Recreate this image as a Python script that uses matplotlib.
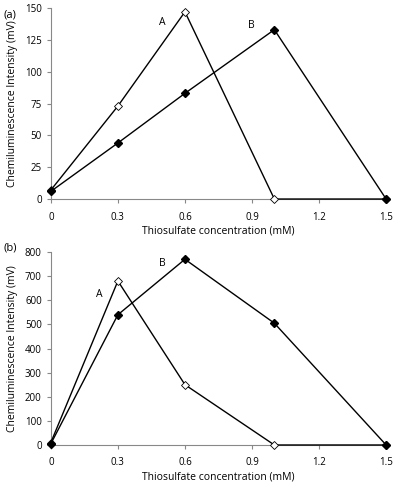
import numpy as np
import matplotlib
matplotlib.use("Agg")
import matplotlib.pyplot as plt

# Thiosulfate concentration (mM)
conc = [0, 0.3, 0.6, 1.0, 1.5]

# Panel (a) intensities (mV)
a_A = [7, 73, 147, 0, 0]
a_B = [6, 44, 83, 133, 0]

# Panel (b) intensities (mV)
b_A = [10, 680, 250, 0, 0]
b_B = [5, 540, 770, 505, 0]

xticks = [0, 0.3, 0.6, 0.9, 1.2, 1.5]
xticklabels = ["0", "0.3", "0.6", "0.9", "1.2", "1.5"]

plt.rcParams['font.family'] = ['Open Sans', 'DejaVu Sans']
plt.rcParams['font.size'] = 7

fig = plt.figure(figsize=(3.94, 4.86), dpi=100)
ax1 = fig.add_axes([0.129, 0.5905, 0.851, 0.393])
ax2 = fig.add_axes([0.129, 0.0844, 0.851, 0.397])


def style(ax, ymax, ystep):
    ax.set_xlim(0, 1.5)
    ax.set_ylim(0, ymax)
    ax.set_xticks(xticks)
    ax.set_xticklabels(xticklabels)
    ax.set_yticks(np.arange(0, ymax + 1, ystep))
    for s in ['top', 'right']:
        ax.spines[s].set_visible(False)
    for s in ['left', 'bottom']:
        ax.spines[s].set_color('#888888')
        ax.spines[s].set_linewidth(0.8)
    ax.tick_params(axis='both', colors='#888888', labelcolor='black',
                   length=3, width=0.8, labelsize=7)
    ax.tick_params(axis='x', pad=6)
    ax.set_xlabel('Thiosulfate concentration (mM)', fontsize=7.5, labelpad=2)
    ax.set_ylabel('Chemiluminescence Intensity (mV)', fontsize=7.5, labelpad=5)


def draw(ax, A, B):
    ax.plot(conc, A, color='black', lw=1, marker='D', ms=4.5,
            mfc='white', mec='black', mew=0.6, clip_on=False, zorder=3)
    ax.plot(conc, B, color='black', lw=1, marker='D', ms=4.5,
            mfc='black', mec='black', clip_on=False, zorder=4)


draw(ax1, a_A, a_B)
style(ax1, 150, 25)
ax1.text(0.497, 139, 'A', fontsize=7.5, ha='center', va='center')
ax1.text(0.895, 136, 'B', fontsize=7.5, ha='center', va='center')

draw(ax2, b_A, b_B)
style(ax2, 800, 100)
ax2.text(0.215, 622, 'A', fontsize=7.5, ha='center', va='center')
ax2.text(0.50, 754, 'B', fontsize=7.5, ha='center', va='center')

fig.text(3 / 394, 1 - 15 / 486, '(a)', fontsize=8, va='center')
fig.text(3 / 394, 1 - 248 / 486, '(b)', fontsize=8, va='center')

fig.savefig('out.png', dpi=100)
